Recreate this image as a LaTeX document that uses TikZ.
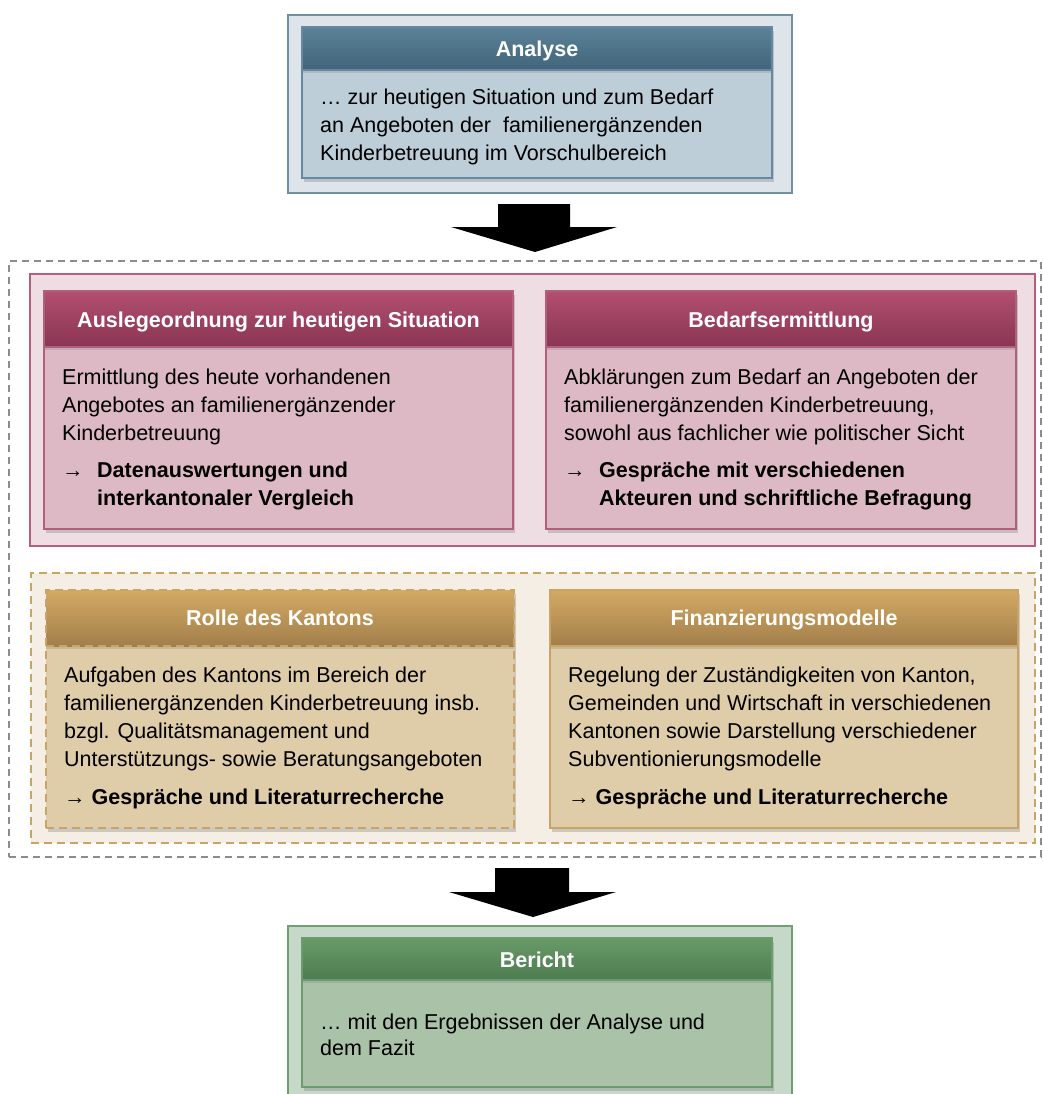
\documentclass[tikz,border=0pt]{standalone}
\usepackage{fontspec}
\setmainfont{Liberation Sans}
\usetikzlibrary{shadows}
\definecolor{bOutF}{HTML}{DDE5EA}\definecolor{bOutD}{HTML}{6F90A4}
\definecolor{bHT}{HTML}{5B8299}\definecolor{bHB}{HTML}{41657A}
\definecolor{bBody}{HTML}{BDCED8}\definecolor{bD}{HTML}{6788A0}
\definecolor{pOutF}{HTML}{EEDEE3}\definecolor{pOutD}{HTML}{B65E7C}
\definecolor{pHT}{HTML}{B24F70}\definecolor{pHB}{HTML}{8A3553}
\definecolor{pBody}{HTML}{DDB9C5}\definecolor{pD}{HTML}{B0607C}
\definecolor{tOutF}{HTML}{F4EEE4}\definecolor{tOutD}{HTML}{C9A463}
\definecolor{tHT}{HTML}{D3AA65}\definecolor{tHB}{HTML}{A27E4A}
\definecolor{tBody}{HTML}{DFCCA8}\definecolor{tD}{HTML}{C9A463}
\definecolor{gOutF}{HTML}{C6D8C7}\definecolor{gOutD}{HTML}{70A070}
\definecolor{gHT}{HTML}{689A68}\definecolor{gHB}{HTML}{4E7C51}
\definecolor{gBody}{HTML}{A9C2A8}\definecolor{gD}{HTML}{6B9C6B}
\definecolor{frame}{HTML}{8C8C8C}
\newcommand\bodyfont{\fontsize{21.5}{28}\selectfont}
\newcommand\titlefont{\fontsize{21.5}{25}\selectfont\bfseries}
\begin{document}
\begin{tikzpicture}[x=1pt,y=-1pt,
  box/.style={anchor=north west, inner sep=0pt, outer sep=0pt, line width=1.2pt},
  card/.style={box, drop shadow={shadow xshift=2pt, shadow yshift=-4pt, opacity=0.35}},
  head/.style={box, drop shadow={shadow xshift=0pt, shadow yshift=-3pt, opacity=0.25}},
  ttl/.style={anchor=base, inner sep=0pt, text=white, font=\titlefont},
  txt/.style={anchor=base west, inner sep=0pt},
  blockarrow/.style={fill=black}]
\useasboundingbox (0,0) rectangle (1043,1094);
\fill[white] (0,0) rectangle (1043,1094);

% ---------- Analyse ----------
\node[box, draw=bOutD, fill=bOutF, minimum width=504pt, minimum height=178pt] (aOut) at (288,15) {};
\node[card, draw=bD, fill=bBody, minimum width=470pt, minimum height=151pt] (aBody) at (302,27) {};
\node[head, draw=bD, top color=bHT, bottom color=bHB, minimum width=470pt, minimum height=43pt] (aHead) at (302,27) {};
\node[ttl] (aTitle) at (aHead.center |- 0,56.5) {Analyse};
\node[txt] (aText) at (320,104.5) {\parbox[t]{445pt}{\bodyfont\raggedright
 … zur heutigen Situation und zum Bedarf\\
 an Angeboten der\ \ familienergänzenden\\
 Kinderbetreuung im Vorschulbereich}};

% arrow 1
\fill[blockarrow] (498,204) -- (570,204) -- (570,227) -- (617,227) -- (535,252) -- (451,227) -- (498,227) -- cycle;

% ---------- middle frame ----------
\node[box, draw=frame, dash pattern=on 7pt off 5pt, line width=1.5pt, minimum width=1032pt, minimum height=596pt] (midFrame) at (9,261) {};

% pink group
\node[box, draw=pOutD, fill=pOutF, minimum width=1005pt, minimum height=272pt] (pOut) at (30,274) {};
\node[card, draw=pD, fill=pBody, minimum width=469pt, minimum height=238pt] (p1Body) at (44,291) {};
\node[head, draw=pD, top color=pHT, bottom color=pHB, minimum width=469pt, minimum height=56pt] (p1Head) at (44,291) {};
\node[ttl] (p1Title) at (p1Head.center |- 0,327.5) {Auslegeordnung zur heutigen Situation};
\node[txt] (p1Text) at (62,384.5) {\parbox[t]{445pt}{\bodyfont\raggedright
 Ermittlung des heute vorhandenen\\
 Angebotes an familienergänzender\\
 Kinderbetreuung\\[9pt]
 \makebox[35pt][l]{→}\textbf{Datenauswertungen und}\\
 \hspace*{35pt}\textbf{interkantonaler Vergleich}}};

\node[card, draw=pD, fill=pBody, minimum width=470pt, minimum height=238pt] (p2Body) at (546,291) {};
\node[head, draw=pD, top color=pHT, bottom color=pHB, minimum width=470pt, minimum height=56pt] (p2Head) at (546,291) {};
\node[ttl] (p2Title) at (p2Head.center |- 0,327.5) {Bedarfsermittlung};
\node[txt] (p2Text) at (564,384.5) {\parbox[t]{450pt}{\bodyfont\raggedright
 Abklärungen zum Bedarf an Angeboten der\\
 familienergänzenden Kinderbetreuung,\\
 sowohl aus fachlicher wie politischer Sicht\\[9pt]
 \makebox[35pt][l]{→}\textbf{Gespräche mit verschiedenen}\\
 \hspace*{35pt}\textbf{Akteuren und schriftliche Befragung}}};

% tan group
\node[box, draw=tOutD, fill=tOutF, dash pattern=on 8pt off 5pt, minimum width=1004pt, minimum height=270pt] (tOut) at (31,573) {};
\node[card, draw=tD, fill=tBody, dash pattern=on 8pt off 5pt, minimum width=468pt, minimum height=238pt] (t1Body) at (46,590) {};
\node[head, draw=tD, dash pattern=on 8pt off 5pt, top color=tHT, bottom color=tHB, minimum width=468pt, minimum height=56pt] (t1Head) at (46,590) {};
\node[ttl] (t1Title) at (t1Head.center |- 0,625.5) {Rolle des Kantons};
\node[txt] (t1Text) at (64,682.5) {\parbox[t]{450pt}{\bodyfont\raggedright
 Aufgaben des Kantons im Bereich der\\
 familienergänzenden Kinderbetreuung insb.\\
 bzgl. Qualitätsmanagement und\\
 Unterstützungs- sowie Beratungsangeboten\\[10pt]
 → \textbf{Gespräche und Literaturrecherche}}};

\node[card, draw=tD, fill=tBody, minimum width=468pt, minimum height=238pt] (t2Body) at (550,590) {};
\node[head, draw=tD, top color=tHT, bottom color=tHB, minimum width=468pt, minimum height=56pt] (t2Head) at (550,590) {};
\node[ttl] (t2Title) at (t2Head.center |- 0,625.5) {Finanzierungsmodelle};
\node[txt] (t2Text) at (568,682.5) {\parbox[t]{450pt}{\bodyfont\raggedright
 Regelung der Zuständigkeiten von Kanton,\\
 Gemeinden und Wirtschaft in verschiedenen\\
 Kantonen sowie Darstellung verschiedener\\
 Subventionierungsmodelle\\[10pt]
 → \textbf{Gespräche und Literaturrecherche}}};

% arrow 2
\fill[blockarrow] (495,868) -- (569,868) -- (569,892) -- (616,892) -- (533,917) -- (449,892) -- (495,892) -- cycle;

% ---------- Bericht ----------
\node[box, draw=gOutD, fill=gOutF, minimum width=504pt, minimum height=175pt] (gOut) at (288,926) {};
\node[card, draw=gD, fill=gBody, minimum width=470pt, minimum height=149pt] (gBody) at (302,938) {};
\node[head, draw=gD, top color=gHT, bottom color=gHB, minimum width=470pt, minimum height=42pt] (gHead) at (302,938) {};
\node[ttl] (gTitle) at (gHead.center |- 0,967.5) {Bericht};
\node[txt] (gText) at (320,1029.5) {\parbox[t]{445pt}{\fontsize{21.5}{26}\selectfont\raggedright
 … mit den Ergebnissen der Analyse und\\
 dem Fazit}};
\end{tikzpicture}
\end{document}
